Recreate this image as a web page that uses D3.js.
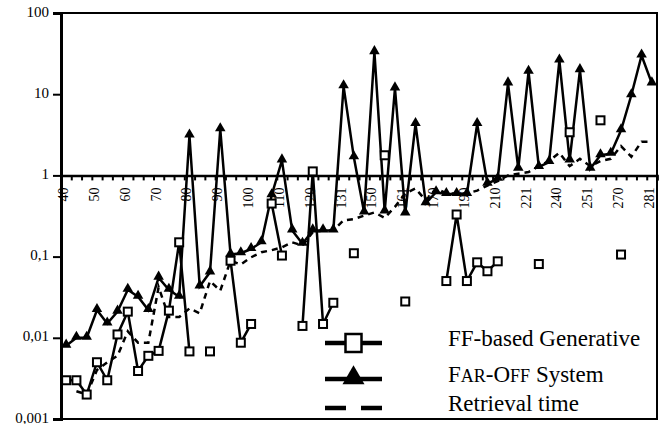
<!DOCTYPE html>
<html lang="en"><head><meta charset="utf-8">
<script type="text/javascript" src="https://cdn.jsdelivr.net/npm/d3@7"></script>
<style>
  body { margin: 0; background: #fff; }
  text { font-family: "Liberation Serif", "Times New Roman", serif; fill: #000; }
</style>
</head>
<body>
<script type="text/javascript">
var width = 663;
var height = 424;

// category labels shown on the axis (every third category)
var tickLabels = ["40","50","60","70","80","90","100","110","120","131","150","161","170","190","210","221","240","251","270","281"];
var nCats = 58;

var ffValues = [0.003,0.003,0.002,0.005,0.003,0.011,0.021,0.0039,0.006,0.0069,
  0.0216,0.15,0.0068,null,0.0068,null,0.089,0.0087,0.0148,null,
  0.45,0.103,null,0.014,1.12,0.0148,0.027,null,0.11,null,
  null,1.77,null,0.028,null,null,null,0.05,0.33,0.05,
  0.085,0.066,0.0875,null,null,null,0.081,null,null,3.4,
  null,null,4.77,null,0.106,null,null,null];

var farValues = [0.008,0.01,0.01,0.022,0.015,0.021,0.039,0.032,0.022,0.055,
  0.039,0.032,3.1,0.043,0.064,3.7,0.106,0.11,0.124,0.15,
  0.57,1.53,0.21,0.144,0.21,0.21,0.21,12.5,1.67,0.35,
  33,0.36,11.8,0.34,4.3,0.455,0.62,0.59,0.59,0.59,
  4.3,0.79,0.91,13.6,1.21,18.9,1.27,1.46,26,1.53,
  19.8,1.21,1.77,1.85,3.6,9.7,30,13.6];

var retValues = [null,0.0022,0.002,0.004,0.005,0.006,0.012,0.0087,0.0087,0.042,
  0.018,0.018,0.023,0.02,0.05,0.038,0.089,0.08,0.098,0.113,
  0.12,0.13,0.15,0.137,0.2,0.21,0.21,0.28,0.29,0.32,
  0.35,0.3,0.41,0.6,0.69,0.49,0.69,0.6,0.6,0.6,
  0.65,0.75,0.85,1.0,1.05,1.1,1.3,1.5,1.9,1.3,
  1.6,1.3,1.5,1.6,2.3,1.7,2.6,2.6];

var yTicks = [0.001,0.01,0.1,1,10,100];
var yTickLabels = ["0,001","0,01","0,1","1","10","100"];

var pLeft = 61, pRight = 657, pTop = 13, pBottom = 419;
var serif = "'Liberation Serif','Times New Roman',serif";

var svg = d3.select("body").append("svg")
  .attr("width", width)
  .attr("height", height);

var x = d3.scaleBand().domain(d3.range(nCats)).range([pLeft, pRight]);
var xb = d3.scaleLinear().domain([0, nCats]).range([pLeft, pRight]);
var y = d3.scaleLog().domain([0.001, 100]).range([pBottom, pTop]);
var cx = function(i) { return x(i) + x.bandwidth() / 2; };

// frame
svg.append("rect")
  .attr("x", pLeft).attr("y", pTop)
  .attr("width", pRight - pLeft).attr("height", pBottom - pTop)
  .attr("fill", "none").attr("stroke", "#000").attr("stroke-width", 2);

// y axis
var yAxis = svg.append("g")
  .attr("transform", "translate(" + pLeft + ",0)")
  .call(d3.axisLeft(y).tickValues(yTicks).tickSize(8).tickPadding(4)
    .tickFormat(function(d, i) { return yTickLabels[i]; }));
yAxis.attr("font-family", serif).attr("font-size", 15);
yAxis.select(".domain").attr("stroke-width", 3);
yAxis.selectAll(".tick line").attr("stroke-width", 2);
yAxis.selectAll("text").attr("dy", "0.2em");

// x axis crossing at 1
var xAxis = svg.append("g")
  .attr("transform", "translate(0," + y(1) + ")")
  .call(d3.axisBottom(xb).tickValues(d3.range(nCats + 1)).tickSize(5).tickFormat(""));
xAxis.select(".domain").attr("stroke-width", 2.5);
xAxis.selectAll(".tick line").attr("stroke-width", 2);

svg.append("g").selectAll("text")
  .data(tickLabels)
  .enter().append("text")
  .attr("transform", function(d, i) { return "translate(" + (cx(i * 3) + 2) + "," + (y(1) + 12) + ") rotate(-90)"; })
  .attr("text-anchor", "end")
  .attr("font-family", serif)
  .attr("font-size", 14)
  .text(function(d) { return d; });

function series(vals) {
  return vals.map(function(v, i) { return { i: i, v: v }; });
}

var line = d3.line()
  .defined(function(d) { return d.v != null; })
  .x(function(d) { return cx(d.i); })
  .y(function(d) { return y(d.v); });

// retrieval time (dashed)
svg.append("path")
  .datum(series(retValues))
  .attr("d", line)
  .attr("fill", "none").attr("stroke", "#000")
  .attr("stroke-width", 2.5).attr("stroke-dasharray", "6,5");

// FAR-OFF
svg.append("path")
  .datum(series(farValues))
  .attr("d", line)
  .attr("fill", "none").attr("stroke", "#000").attr("stroke-width", 2.5);
svg.append("g").selectAll("path")
  .data(series(farValues).filter(function(d) { return d.v != null; }))
  .enter().append("path")
  .attr("transform", function(d) { return "translate(" + cx(d.i) + "," + (y(d.v) - 1) + ")"; })
  .attr("d", d3.symbol(d3.symbolTriangle, 48))
  .attr("fill", "#000");

// FF-based generative
svg.append("path")
  .datum(series(ffValues))
  .attr("d", line)
  .attr("fill", "none").attr("stroke", "#000").attr("stroke-width", 2.5);
svg.append("g").selectAll("rect")
  .data(series(ffValues).filter(function(d) { return d.v != null; }))
  .enter().append("rect")
  .attr("x", function(d) { return cx(d.i) - 4; })
  .attr("y", function(d) { return y(d.v) - 4; })
  .attr("width", 8).attr("height", 8)
  .attr("fill", "#fff").attr("stroke", "#000").attr("stroke-width", 2);

// legend
var lg = svg.append("g").attr("font-family", serif);
var lx1 = 325, lx2 = 382, lmid = 353.5;
var rows = [343, 379, 408];

lg.append("line").attr("x1", lx1).attr("x2", lx2).attr("y1", rows[0]).attr("y2", rows[0])
  .attr("stroke", "#000").attr("stroke-width", 4.5);
lg.append("rect").attr("x", lmid - 8).attr("y", rows[0] - 9).attr("width", 16).attr("height", 18)
  .attr("fill", "#fff").attr("stroke", "#000").attr("stroke-width", 2.5);

lg.append("line").attr("x1", lx1).attr("x2", lx2).attr("y1", rows[1]).attr("y2", rows[1])
  .attr("stroke", "#000").attr("stroke-width", 4.5);
lg.append("path").attr("transform", "translate(" + lmid + "," + (rows[1] - 1) + ")")
  .attr("d", d3.symbol(d3.symbolTriangle, 210)).attr("fill", "#000");

lg.append("line").attr("x1", lx1).attr("x2", lx2).attr("y1", rows[2]).attr("y2", rows[2])
  .attr("stroke", "#000").attr("stroke-width", 4.5).attr("stroke-dasharray", "21,15");

var tx = 448;
lg.append("text").attr("x", tx).attr("y", rows[0] + 3).attr("font-size", 23).text("FF-based Generative");
var t2 = lg.append("text").attr("x", tx).attr("y", rows[1] + 3).attr("font-size", 23);
t2.append("tspan").text("F");
t2.append("tspan").attr("font-size", 18).text("AR");
t2.append("tspan").text("-O");
t2.append("tspan").attr("font-size", 18).text("FF");
t2.append("tspan").text(" System");
lg.append("text").attr("x", tx).attr("y", rows[2] + 3).attr("font-size", 23).text("Retrieval time");
</script>
</body></html>
